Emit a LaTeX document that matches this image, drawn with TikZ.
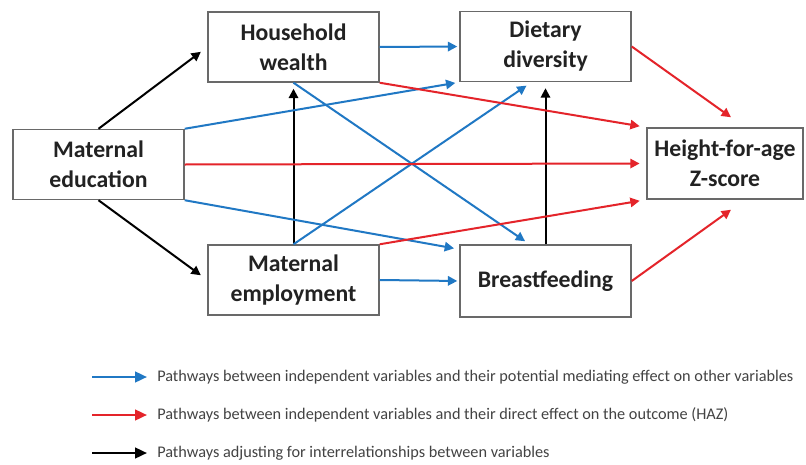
\documentclass[tikz,border=0pt]{standalone}
\usepackage{fontspec}
\setmainfont{Carlito}
\usetikzlibrary{arrows.meta,calc}
\definecolor{pblue}{RGB}{32,120,196}
\definecolor{pred}{RGB}{228,36,42}
\definecolor{boxline}{RGB}{105,105,105}
\definecolor{txt}{RGB}{34,34,34}
\begin{document}
\begin{tikzpicture}[x=0.75pt,y=-0.75pt,
  box/.style={draw=boxline,line width=1.1pt,fill=white,minimum width=128.25pt,
    minimum height=52.5pt,inner sep=0pt,align=center,
    font=\fontsize{17.8}{22.5}\selectfont\bfseries,text=txt},
  arr/.style={line width=1.5pt,-{Triangle[length=7pt,width=7pt]}},
  legarr/.style={line width=1.8pt,-{Triangle[length=9pt,width=8pt]}},
  legtxt/.style={anchor=west,inner sep=0pt,font=\fontsize{12.2}{14}\selectfont,text=txt!85}]
\useasboundingbox (0,0) rectangle (806,464);
\fill[white] (0,0) rectangle (806,464);
% boxes
\node[box] (hw) at (293.5,47) {Household\\wealth};
\node[box] (me) at (98.5,164.5) {Maternal\\education};
\node[box] (dd) at (545.5,46.5) {Dietary\\diversity};
\node[box,minimum width=117pt,minimum height=53.25pt] (haz) at (725,163.5) {Height-for-age\\Z-score};
\node[box] (memp) at (293.5,280) {Maternal\\employment};
\node[box,minimum height=54pt] (bf) at (545.5,281) {Breastfeeding};
% black
\draw[arr,black,shorten >=6pt] (me.north) -- (hw.west);
\draw[arr,black,shorten >=6pt] (me.south) -- (memp.west);
\draw[arr,black,shorten >=4.5pt] (memp.north) -- (hw.south);
\draw[arr,black,shorten >=4.5pt] (bf.north) -- (dd.south);
% blue
\draw[arr,pblue,shorten >=1.5pt] (hw.east) -- (dd.west);
\draw[arr,pblue,shorten >=3pt] (me.north east) -- (dd.south west);
\draw[arr,pblue,shorten >=4pt] (hw.south) -- ($(bf.north)+(-16,0)$);
\draw[arr,pblue,shorten >=4.5pt] (memp.north) -- ($(dd.south)+(-14,0)$);
\draw[arr,pblue,shorten >=4pt] (me.south east) -- ($(bf.north west)+(0,5)$);
\draw[arr,pblue,shorten >=1.5pt] (memp.east) -- (bf.west);
% red
\draw[arr,pred,shorten >=5pt] (hw.south east) -- (haz.north west);
\draw[arr,pred,shorten >=5pt] (me.east) -- (haz.west);
\draw[arr,pred,shorten >=5pt] (memp.north east) -- (haz.south west);
\draw[arr,pred] (dd.east) -- ($(haz.north)+(6,-10)$);
\draw[arr,pred] (bf.east) -- ($(haz.south)+(6,10)$);
% legend
\node[legtxt] (l1) at (157,377) {Pathways between independent variables and their potential mediating effect on other variables};
\node[legtxt] (l2) at (157,415) {Pathways between independent variables and their direct effect on the outcome (HAZ)};
\node[legtxt] (l3) at (157,453) {Pathways adjusting for interrelationships between variables};
\coordinate (c1) at (92,377);
\coordinate (c2) at (92,415);
\coordinate (c3) at (92,453);
\draw[legarr,pblue,shorten >=7.5pt] (c1) -- (l1.west);
\draw[legarr,pred,shorten >=7.5pt] (c2) -- (l2.west);
\draw[legarr,black,shorten >=7.5pt] (c3) -- (l3.west);
\end{tikzpicture}
\end{document}
